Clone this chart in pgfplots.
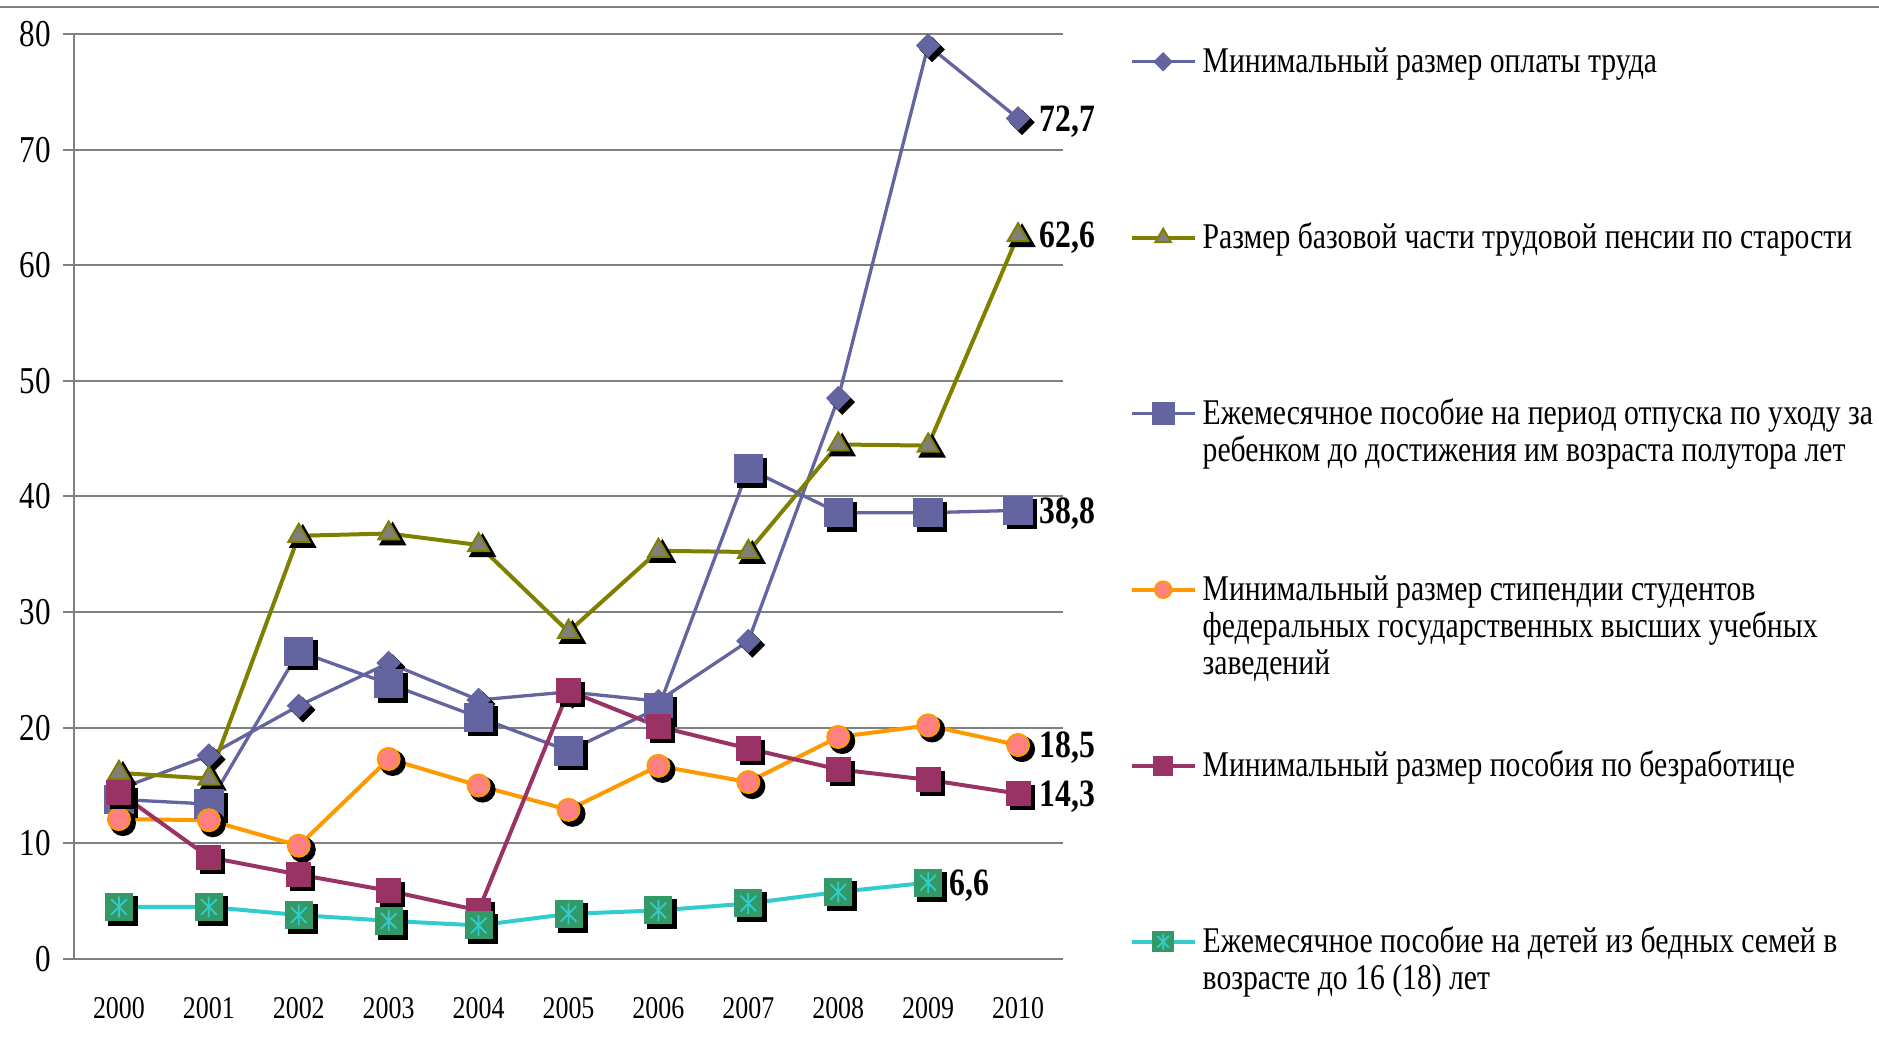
\documentclass[border=0pt]{standalone}
\usepackage{pgfplots}
\pgfplotsset{compat=1.18}
\usepackage{pgfplotstable}
\usepackage{fontspec}
\setmainfont{Liberation Serif}[FakeStretch=0.82]

\definecolor{slate}{RGB}{100,100,160}
\definecolor{olivel}{RGB}{128,128,0}
\definecolor{trifill}{RGB}{128,128,120}
\definecolor{orangel}{RGB}{255,153,0}
\definecolor{pinkm}{RGB}{255,128,128}
\definecolor{maroon}{RGB}{153,51,102}
\definecolor{cyanl}{RGB}{51,204,204}
\definecolor{tealm}{RGB}{51,153,102}

% square with an asterisk, as in the sixth series
\pgfdeclareplotmark{sqast}{%
  \pgfpathrectangle{\pgfqpoint{-\pgfplotmarksize}{-\pgfplotmarksize}}%
    {\pgfqpoint{2\pgfplotmarksize}{2\pgfplotmarksize}}%
  \pgfusepathqfillstroke
  \begin{pgfscope}
    \pgfsetstrokecolor{cyanl}
    \pgfsetlinewidth{0.5pt}
    \pgfpathmoveto{\pgfqpoint{0pt}{-0.8\pgfplotmarksize}}
    \pgfpathlineto{\pgfqpoint{0pt}{0.8\pgfplotmarksize}}
    \pgfpathmoveto{\pgfqpoint{-0.6\pgfplotmarksize}{-0.6\pgfplotmarksize}}
    \pgfpathlineto{\pgfqpoint{0.6\pgfplotmarksize}{0.6\pgfplotmarksize}}
    \pgfpathmoveto{\pgfqpoint{-0.6\pgfplotmarksize}{0.6\pgfplotmarksize}}
    \pgfpathlineto{\pgfqpoint{0.6\pgfplotmarksize}{-0.6\pgfplotmarksize}}
    \pgfusepathqstroke
  \end{pgfscope}%
}

\pgfplotstableread{
year mrot pens child stip unemp poor
2000 14.7 16.1 13.8 12.1 14.4 4.5
2001 17.6 15.6 13.4 12.0 8.8  4.5
2002 21.9 36.6 26.6 9.8  7.3  3.8
2003 25.6 36.8 23.8 17.3 5.9  3.3
2004 22.4 35.8 20.9 15.0 4.2  2.9
2005 23.1 28.3 18.0 12.9 23.2 3.9
2006 22.3 35.3 21.7 16.7 20.1 4.2
2007 27.5 35.2 42.4 15.3 18.2 4.8
2008 48.5 44.5 38.6 19.2 16.4 5.8
2009 79.0 44.4 38.6 20.2 15.5 6.6
2010 72.7 62.6 38.8 18.5 14.3 nan
}\datatable

\newcommand{\lgtext}[1]{\parbox[t]{76mm}{\raggedright #1}}

\begin{document}
\begin{tikzpicture}
\path[use as bounding box] (0,0) rectangle (187.9mm,105.2mm);
\draw[gray, line width=0.2mm] (0,104.5mm) -- (187.9mm,104.5mm);
\begin{axis}[
  at={(7.4mm,9.3mm)}, anchor=south west,
  scale only axis, width=98.9mm, height=92.5mm,
  xmin=1999.5, xmax=2010.5, ymin=0, ymax=80,
  clip=false,
  axis lines*=left,
  axis line style={gray, line width=0.25mm},
  /pgf/number format/assume math mode=true,
  xtick={2000,2001,...,2010},
  xticklabel style={/pgf/number format/1000 sep={}, font=\fontsize{9}{9}\selectfont, yshift=-2.6mm},
  major x tick style={draw=none},
  extra x ticks={1999.5,2000.5,...,2010.5},
  extra x tick labels={},
  extra x tick style={grid=none, tick align=outside, major tick length=1.1mm,
    major tick style={draw=gray, line width=0.2mm}},
  ytick={0,10,...,80},
  yticklabel style={font=\fontsize{10.8}{10.8}\selectfont},
  ytick align=outside, major tick length=1.1mm,
  y tick style={gray, line width=0.2mm},
  ymajorgrids, grid style={gray, line width=0.2mm},
  every axis plot/.append style={line width=0.4mm},
  legend style={at={(1.0667,0.987)}, anchor=north west, draw=none, fill=none,
    inner sep=0pt, row sep=0pt, column sep=0.6mm,
    cells={anchor=base west}, nodes={inner sep=0pt, text height=2.6mm, text depth=15mm},
    font=\fontsize{10.3}{10.5}\selectfont},
  legend image code/.code={%
    \draw[mark repeat=2,mark phase=2,#1,every mark/.append style={scale=0.75}]
      plot coordinates {(0mm,1.1mm) (3.15mm,1.1mm) (6.3mm,1.1mm)};},
]
% shadows of the marks
\addplot[forget plot, only marks, black, mark=square*, mark size=0.7mm,
  mark options={xshift=0.4mm, yshift=-0.4mm, rotate=45}] table[x=year, y=mrot] {\datatable};
\addplot[slate, line width=0.33mm, mark=square*, mark size=0.7mm, mark options={rotate=45, fill=slate}]
  table[x=year, y=mrot] {\datatable};
\addlegendentry{\lgtext{Минимальный размер оплаты труда}}

\addplot[forget plot, only marks, black, mark=triangle*, mark size=1.2mm,
  mark options={xshift=0.4mm, yshift=-0.4mm}] table[x=year, y=pens] {\datatable};
\addplot[olivel, mark=triangle*, mark size=1.2mm, mark options={fill=trifill, draw=olivel, line width=0.2mm}]
  table[x=year, y=pens] {\datatable};
\addlegendentry{\lgtext{Размер базовой части трудовой пенсии по старости}}

\addplot[forget plot, only marks, black, mark=square*, mark size=1.3mm,
  mark options={xshift=0.4mm, yshift=-0.4mm}] table[x=year, y=child] {\datatable};
\addplot[slate, line width=0.33mm, mark=square*, mark size=1.3mm, mark options={fill=slate}]
  table[x=year, y=child] {\datatable};
\addlegendentry{\lgtext{Ежемесячное пособие на период отпуска по уходу за\\ребенком до достижения им возраста полутора лет}}

\addplot[forget plot, only marks, black, mark=*, mark size=1.1mm,
  mark options={xshift=0.4mm, yshift=-0.4mm}] table[x=year, y=stip] {\datatable};
\addplot[orangel, mark=*, mark size=1.1mm, mark options={fill=pinkm, draw=orangel, line width=0.2mm}]
  table[x=year, y=stip] {\datatable};
\addlegendentry{\lgtext{Минимальный размер стипендии студентов\\федеральных государственных высших учебных\\заведений}}

\addplot[forget plot, only marks, black, mark=square*, mark size=1.05mm,
  mark options={xshift=0.4mm, yshift=-0.4mm}] table[x=year, y=unemp] {\datatable};
\addplot[maroon, mark=square*, mark size=1.05mm, mark options={fill=maroon}]
  table[x=year, y=unemp] {\datatable};
\addlegendentry{\lgtext{Минимальный размер пособия по безработице}}

\addplot[forget plot, only marks, black, mark=square*, mark size=1.3mm,
  mark options={xshift=0.4mm, yshift=-0.4mm}] table[x=year, y=poor] {\datatable};
\addplot[cyanl, mark=sqast, mark size=1.3mm, mark options={fill=tealm, draw=tealm, line width=0.2mm}]
  table[x=year, y=poor] {\datatable};
\addlegendentry{\lgtext{Ежемесячное пособие на детей из бедных семей в\\возрасте до 16 (18) лет}}

% value labels at the ends of the lines
\begin{scope}[every node/.style={anchor=west, inner sep=0pt, font=\bfseries\fontsize{11}{11}\selectfont}]
\node at (axis cs:2010,72.7) [xshift=2.1mm, yshift=-0.3mm] {72,7};
\node at (axis cs:2010,62.6) [xshift=2.1mm, yshift=-0.3mm] {62,6};
\node at (axis cs:2010,38.8) [xshift=2.1mm, yshift=-0.3mm] {38,8};
\node at (axis cs:2010,18.5) [xshift=2.1mm, yshift=-0.3mm] {18,5};
\node at (axis cs:2010,14.3) [xshift=2.1mm, yshift=-0.3mm] {14,3};
\node at (axis cs:2009,6.6) [xshift=2.1mm, yshift=-0.3mm] {6,6};
\end{scope}
\end{axis}
\end{tikzpicture}
\end{document}
